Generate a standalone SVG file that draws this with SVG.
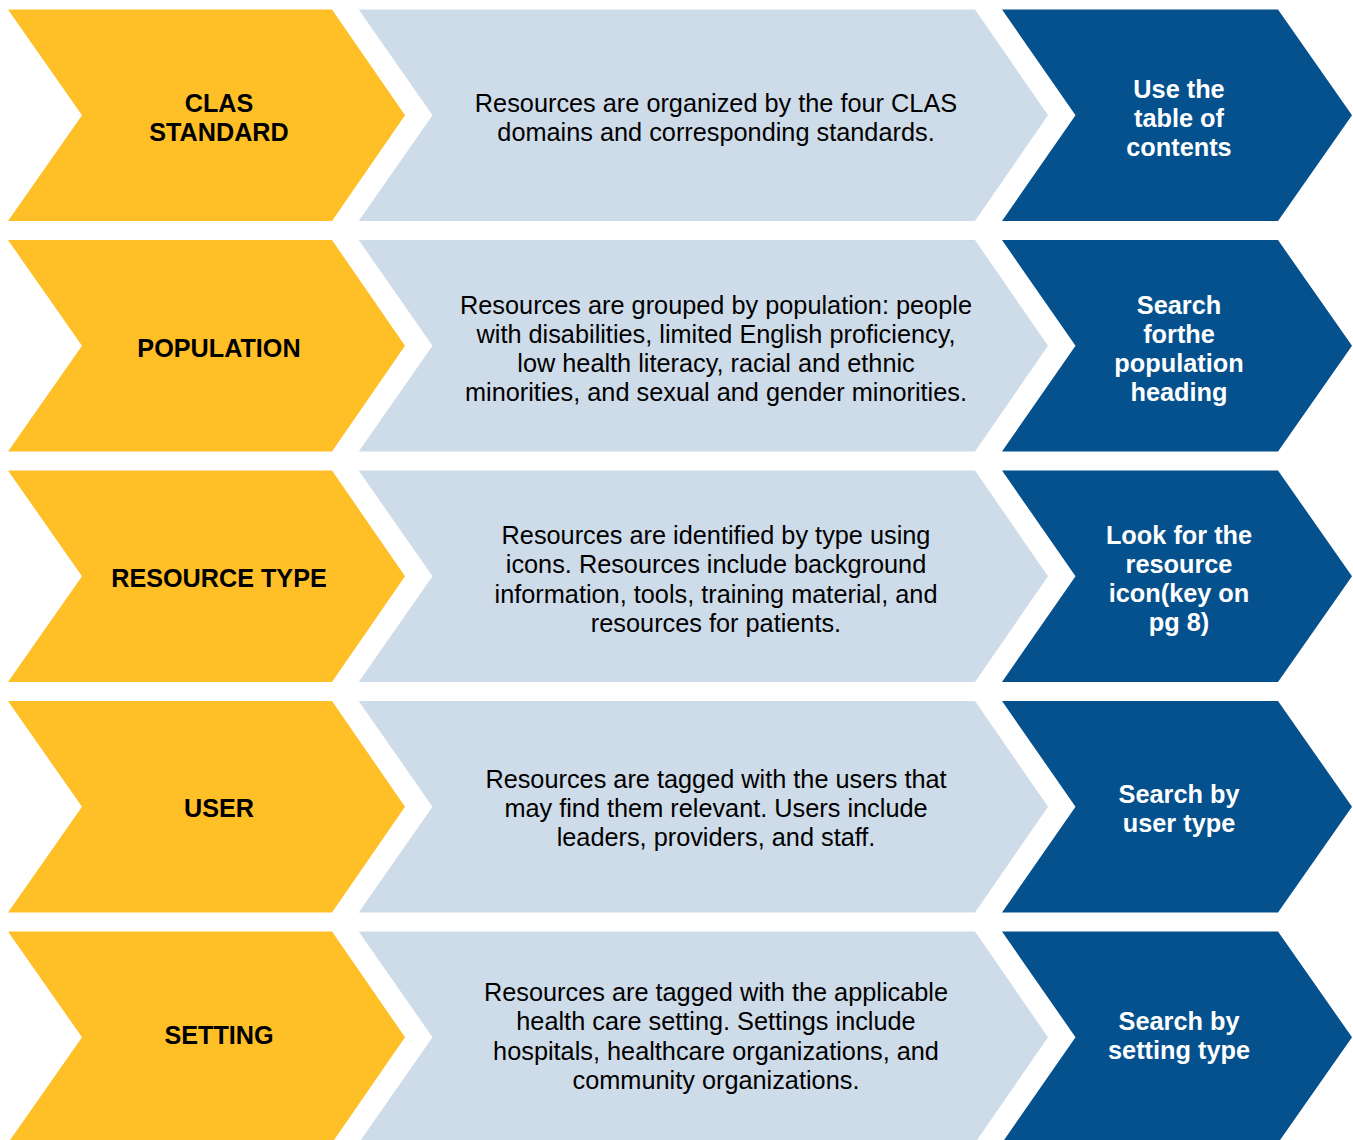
<svg xmlns="http://www.w3.org/2000/svg" xmlns:xlink="http://www.w3.org/1999/xlink" width="1353" height="1140" viewBox="0 0 1353 1140">
<style>
.y{fill:#FEBF27}
.l{fill:#CEDBE8}
.d{fill:#05518E}
text{font-family:"Liberation Sans",Arial,sans-serif;font-size:25.3px;text-anchor:middle}
.yt{font-weight:bold;fill:#000;font-size:25.2px}
.lt{fill:#000}
.dt{font-weight:bold;fill:#fff}
</style>
<defs>
<path id="cy" d="M8,0 H332 L405,105.75 L332,211.5 H8 L82,105.75 Z"/>
<path id="cl" d="M358.7,0 H975 L1048,105.75 L975,211.5 H358.7 L432.5,105.75 Z"/>
<path id="cd" d="M1002,0 H1278 L1352,105.75 L1278,211.5 H1002 L1075.5,105.75 Z"/>
</defs>

<g id="row1">
<g id="clas-standard"><use xlink:href="#cy" class="y" transform="translate(0,9.5)"/>
<text class="yt"><tspan x="219" y="112">CLAS</tspan><tspan x="219" y="141">STANDARD</tspan></text></g>
<g id="clas-desc"><use xlink:href="#cl" class="l" transform="translate(0,9.5)"/>
<text class="lt"><tspan x="716" y="112">Resources are organized by the four CLAS</tspan><tspan x="716" y="141">domains and corresponding standards.</tspan></text></g>
<g id="clas-action"><use xlink:href="#cd" class="d" transform="translate(0,9.5)"/>
<text class="dt"><tspan x="1179" y="97.5">Use the</tspan><tspan x="1179" y="126.5">table of</tspan><tspan x="1179" y="155.5">contents</tspan></text></g>
</g>

<g id="row2">
<g id="population"><use xlink:href="#cy" class="y" transform="translate(0,240)"/>
<text class="yt"><tspan x="219" y="357">POPULATION</tspan></text></g>
<g id="population-desc"><use xlink:href="#cl" class="l" transform="translate(0,240)"/>
<text class="lt"><tspan x="716" y="314">Resources are grouped by population: people</tspan><tspan x="716" y="343">with disabilities, limited English proficiency,</tspan><tspan x="716" y="372">low health literacy, racial and ethnic</tspan><tspan x="716" y="401">minorities, and sexual and gender minorities.</tspan></text></g>
<g id="population-action"><use xlink:href="#cd" class="d" transform="translate(0,240)"/>
<text class="dt"><tspan x="1179" y="313.5">Search</tspan><tspan x="1179" y="342.5">forthe</tspan><tspan x="1179" y="371.5">population</tspan><tspan x="1179" y="400.5">heading</tspan></text></g>
</g>

<g id="row3">
<g id="resource-type"><use xlink:href="#cy" class="y" transform="translate(0,470.5)"/>
<text class="yt"><tspan x="219" y="587">RESOURCE TYPE</tspan></text></g>
<g id="resource-desc"><use xlink:href="#cl" class="l" transform="translate(0,470.5)"/>
<text class="lt"><tspan x="716" y="544">Resources are identified by type using</tspan><tspan x="716" y="573">icons. Resources include background</tspan><tspan x="716" y="603">information, tools, training material, and</tspan><tspan x="716" y="632">resources for patients.</tspan></text></g>
<g id="resource-action"><use xlink:href="#cd" class="d" transform="translate(0,470.5)"/>
<text class="dt"><tspan x="1179" y="543.5">Look for the</tspan><tspan x="1179" y="572.5">resource</tspan><tspan x="1179" y="601.5">icon(key on</tspan><tspan x="1179" y="630.5">pg 8)</tspan></text></g>
</g>

<g id="row4">
<g id="user"><use xlink:href="#cy" class="y" transform="translate(0,701)"/>
<text class="yt"><tspan x="219" y="817">USER</tspan></text></g>
<g id="user-desc"><use xlink:href="#cl" class="l" transform="translate(0,701)"/>
<text class="lt"><tspan x="716" y="788">Resources are tagged with the users that</tspan><tspan x="716" y="817">may find them relevant. Users include</tspan><tspan x="716" y="846">leaders, providers, and staff.</tspan></text></g>
<g id="user-action"><use xlink:href="#cd" class="d" transform="translate(0,701)"/>
<text class="dt"><tspan x="1179" y="803">Search by</tspan><tspan x="1179" y="832">user type</tspan></text></g>
</g>

<g id="row5">
<g id="setting"><use xlink:href="#cy" class="y" transform="translate(0,931.5)"/>
<text class="yt"><tspan x="219" y="1044">SETTING</tspan></text></g>
<g id="setting-desc"><use xlink:href="#cl" class="l" transform="translate(0,931.5)"/>
<text class="lt"><tspan x="716" y="1001">Resources are tagged with the applicable</tspan><tspan x="716" y="1030">health care setting. Settings include</tspan><tspan x="716" y="1060">hospitals, healthcare organizations, and</tspan><tspan x="716" y="1089">community organizations.</tspan></text></g>
<g id="setting-action"><use xlink:href="#cd" class="d" transform="translate(0,931.5)"/>
<text class="dt"><tspan x="1179" y="1029.5">Search by</tspan><tspan x="1179" y="1058.5">setting type</tspan></text></g>
</g>
</svg>
